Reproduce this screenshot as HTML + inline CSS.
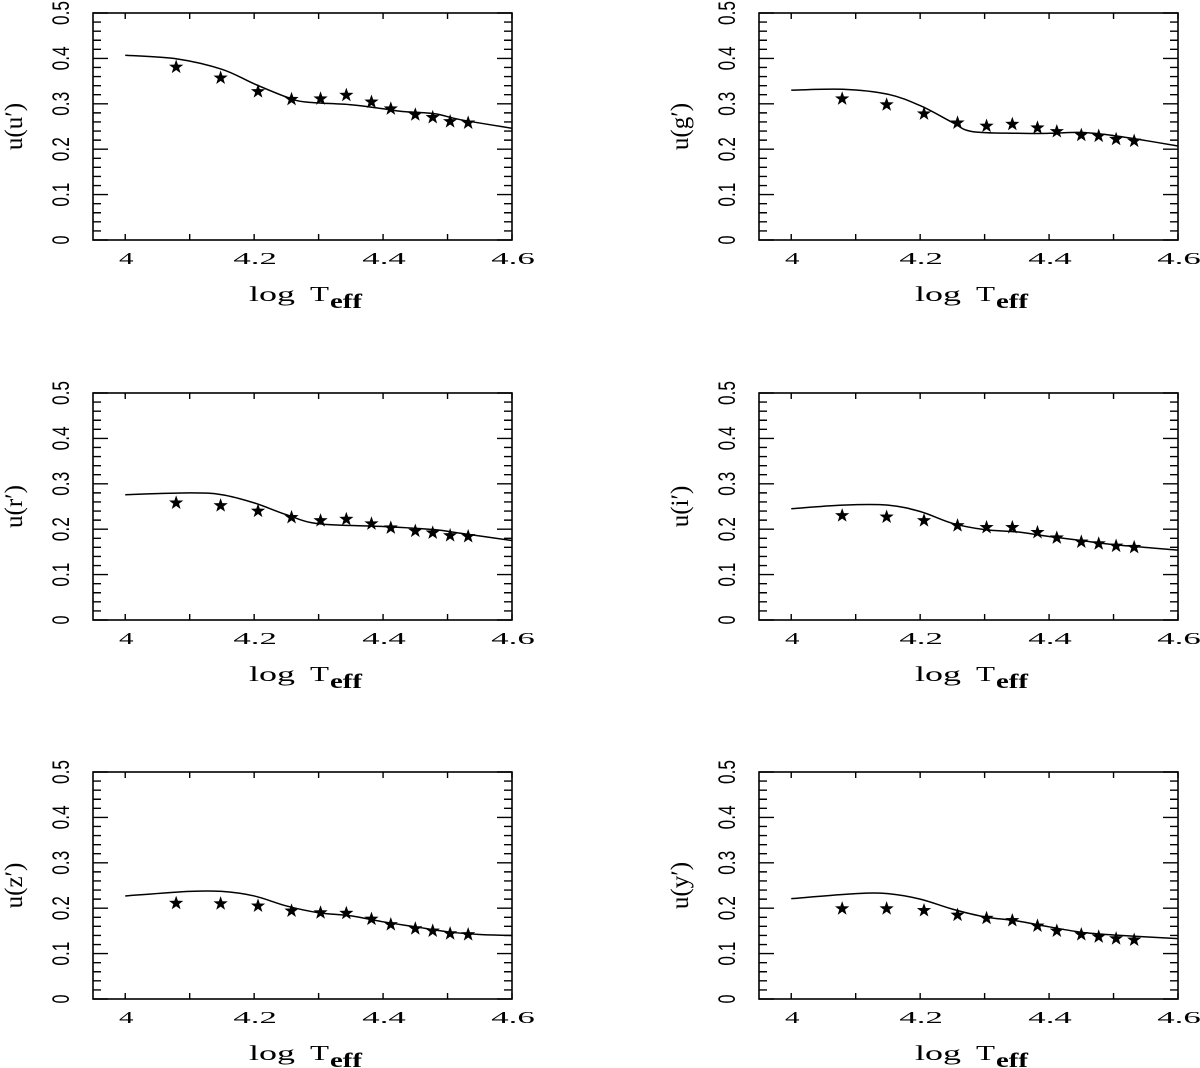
<!DOCTYPE html>
<html><head><meta charset="utf-8"><style>
html,body{margin:0;padding:0;background:#fff;}
svg{display:block;}
text{fill:#000;}
.tk{font-family:"Liberation Serif",serif;font-size:17px;}
.yt{font-family:"Liberation Sans",sans-serif;font-size:24px;}
.yl{font-family:"Liberation Serif",serif;font-size:25px;}
.xl{font-family:"Liberation Serif",serif;font-size:21px;}
</style></head><body>
<svg id="fig" width="1200" height="1068" viewBox="0 0 1200 1068" xmlns="http://www.w3.org/2000/svg"></svg>
<script>
const starX = [4.079,4.148,4.206,4.258,4.303,4.343,4.382,4.412,4.45,4.477,4.504,4.532];
const xTicks = [4,4.2,4.4,4.6];
const xTickLabels = ["4","4.2","4.4","4.6"];
const yTicks = [0,0.1,0.2,0.3,0.4,0.5];
const yTickLabels = ["0","0.1","0.2","0.3","0.4","0.5"];
const panelNames = ["u(u′)","u(g′)","u(r′)","u(i′)","u(z′)","u(y′)"];
const starU = [0.381,0.357,0.327,0.310,0.311,0.319,0.304,0.289,0.276,0.270,0.261,0.258];
const starG = [0.311,0.298,0.278,0.258,0.251,0.255,0.247,0.239,0.231,0.229,0.222,0.218];
const starR = [0.258,0.252,0.240,0.226,0.219,0.222,0.212,0.203,0.196,0.192,0.186,0.184];
const starI = [0.230,0.227,0.219,0.208,0.204,0.204,0.193,0.181,0.172,0.168,0.163,0.160];
const starZ = [0.211,0.210,0.205,0.194,0.190,0.189,0.176,0.164,0.155,0.150,0.144,0.142];
const starY = [0.199,0.199,0.195,0.185,0.178,0.173,0.161,0.150,0.142,0.137,0.133,0.130];
const lineXU = [4.0,4.08,4.15,4.2,4.25,4.28,4.35,4.4,4.43,4.48,4.52,4.6];
const lineU = [0.407,0.399,0.376,0.344,0.315,0.304,0.298,0.289,0.283,0.278,0.265,0.246];
const lineXG = [4.0,4.08,4.15,4.2,4.25,4.28,4.35,4.4,4.45,4.5,4.55,4.6];
const lineG = [0.330,0.332,0.321,0.296,0.259,0.239,0.235,0.235,0.237,0.230,0.219,0.207];
const lineXR = [4.0,4.1,4.15,4.2,4.25,4.3,4.4,4.48,4.52,4.6];
const lineR = [0.276,0.280,0.276,0.258,0.232,0.212,0.206,0.199,0.191,0.175];
const lineXI = [4.0,4.08,4.15,4.2,4.25,4.3,4.35,4.4,4.45,4.5,4.6];
const lineI = [0.245,0.253,0.253,0.239,0.213,0.199,0.194,0.184,0.175,0.166,0.154];
const lineXZ = [4.0,4.1,4.15,4.2,4.25,4.3,4.35,4.4,4.45,4.5,4.55,4.6];
const lineZ = [0.227,0.237,0.237,0.227,0.205,0.190,0.183,0.170,0.159,0.148,0.142,0.140];
const lineXY = [4.0,4.1,4.15,4.2,4.25,4.3,4.35,4.4,4.45,4.5,4.6];
const lineY = [0.221,0.232,0.232,0.220,0.198,0.181,0.172,0.159,0.147,0.141,0.133];

const NS="http://www.w3.org/2000/svg";
const svg=document.getElementById('fig');
function el(tag,attrs,parent){const e=document.createElementNS(NS,tag);for(const k in attrs)e.setAttribute(k,attrs[k]);(parent||svg).appendChild(e);return e;}
const W=419,H=227,XMIN=3.95,XMAX=4.6,YMIN=0,YMAX=0.5;
const lefts=[93,759],tops=[13,393,772];
const panels=[[starU,lineXU,lineU],[starG,lineXG,lineG],[starR,lineXR,lineR],[starI,lineXI,lineI],[starZ,lineXZ,lineZ],[starY,lineXY,lineY]];
function starPath(cx,cy,r){let d='';for(let i=0;i<10;i++){const a=-Math.PI/2+i*Math.PI/5;const rr=i%2?r*0.4:r;d+=(i?'L':'M')+(cx+rr*Math.cos(a)).toFixed(2)+','+(cy+rr*Math.sin(a)).toFixed(2);}return d+'Z';}
function smooth(pts){let d='M'+pts[0][0]+','+pts[0][1];for(let i=0;i<pts.length-1;i++){const p0=pts[Math.max(0,i-1)],p1=pts[i],p2=pts[i+1],p3=pts[Math.min(pts.length-1,i+2)];const c1x=p1[0]+(p2[0]-p0[0])/6,c1y=p1[1]+(p2[1]-p0[1])/6,c2x=p2[0]-(p3[0]-p1[0])/6,c2y=p2[1]-(p3[1]-p1[1])/6;d+=` C${c1x.toFixed(2)},${c1y.toFixed(2)} ${c2x.toFixed(2)},${c2y.toFixed(2)} ${p2[0].toFixed(2)},${p2[1].toFixed(2)}`;}return d;}
panels.forEach((p,idx)=>{
  const L=lefts[idx%2],T=tops[Math.floor(idx/2)];
  const sx=v=>L+(v-XMIN)/(XMAX-XMIN)*W, sy=v=>T+H-(v-YMIN)/(YMAX-YMIN)*H;
  const g=el('g',{});
  
  
  const box=el('rect',{x:L,y:T,width:W,height:H,fill:'none',stroke:'#000','stroke-width':1.6},g);
  
  
  let td='';
  for(let i=0;i<=6;i++){const x=sx(4+i*0.1);td+=`M${x},${T+H}v-6M${x},${T}v6`;}
  for(let i=0;i<=25;i++){const v=i*0.02;const y=sy(v);const len=(i%5===0)?15:8;td+=`M${L},${y}h${len}M${L+W},${y}h${-len}`;}
  const ticks=el('path',{d:td,stroke:'#000','stroke-width':1.4,fill:'none'},g);
  
  
  xTicks.forEach((v,i)=>{const s=xTickLabels[i];const t=el('text',{x:sx(v)+1,y:T+H+24,'text-anchor':'middle',class:'tk',textLength:s.length*14.5,lengthAdjust:'spacingAndGlyphs'},g);t.textContent=s;
    
    });
  yTicks.forEach((v,i)=>{const s=yTickLabels[i];const t=el('text',{x:0,y:0,'text-anchor':'middle',class:'yt',textLength:s.length===1?9:24,lengthAdjust:'spacingAndGlyphs',transform:`translate(${L-24},${sy(v)}) rotate(-90)`},g);t.textContent=s;
    
    });
  const xl=el('g',{},g);
  
  
  const t1=el('text',{x:L+156,y:T+H+61,class:'xl',textLength:46,lengthAdjust:'spacingAndGlyphs'},xl);t1.textContent='log';
  const t2=el('text',{x:L+217,y:T+H+61,class:'xl',textLength:19,lengthAdjust:'spacingAndGlyphs'},xl);t2.textContent='T';
  const t3=el('text',{x:L+237,y:T+H+68,class:'xl','font-size':'17','font-weight':'bold',textLength:32,lengthAdjust:'spacingAndGlyphs'},xl);t3.textContent='eff';
  const yl=el('text',{x:0,y:0,'text-anchor':'middle',class:'yl',transform:`translate(${L-71},${T+H/2}) rotate(-90)`},g);
  yl.textContent=panelNames[idx];
  
  
  const pts=p[1].map((x,i)=>[sx(x),sy(p[2][i])]);
  const ln=el('path',{d:smooth(pts),fill:'none',stroke:'#000','stroke-width':1.5},g);
  
  
  starX.forEach((x,i)=>{const s=el('path',{d:starPath(sx(x),sy(p[0][i]),7.5),fill:'#000'},g);
    
    });
});
</script>
</body></html>
